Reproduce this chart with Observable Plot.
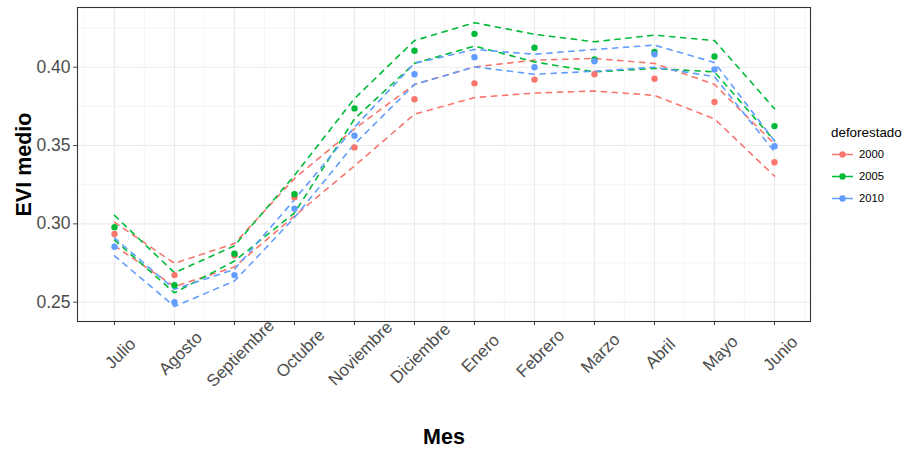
<!DOCTYPE html>
<html><head><meta charset="utf-8">
<script src="https://cdn.jsdelivr.net/npm/d3@7"></script>
<script src="https://cdn.jsdelivr.net/npm/@observablehq/plot@0.6"></script>
<style>
body{margin:0;background:#fff;}
#chart{position:relative;width:904px;height:450px;font-family:"Liberation Sans",Arial,sans-serif;}
#chart svg{font-family:"Liberation Sans",Arial,sans-serif;}
#legend{position:absolute;left:0;top:0;pointer-events:none;}
</style></head><body><div id="chart"></div>
<script>
const meses = ["Julio","Agosto","Septiembre","Octubre","Noviembre","Diciembre","Enero","Febrero","Marzo","Abril","Mayo","Junio"];
const anios = ["2000","2005","2010"];
const colores = ["#F8766D","#00BA38","#619CFF"];

const media2000 = [0.2935,0.2673,0.2800,0.3170,0.3488,0.3795,0.3897,0.3921,0.3955,0.3927,0.3778,0.3393];
const sup2000   = [0.3010,0.2748,0.2875,0.3290,0.3607,0.3890,0.4002,0.4045,0.4056,0.4024,0.3890,0.3510];
const inf2000   = [0.2860,0.2600,0.2725,0.3050,0.3370,0.3700,0.3806,0.3835,0.3848,0.3820,0.3670,0.3305];

const media2005 = [0.2978,0.2608,0.2810,0.3189,0.3737,0.4105,0.4213,0.4124,0.4049,0.4098,0.4068,0.3624];
const sup2005   = [0.3054,0.2688,0.2860,0.3310,0.3800,0.4170,0.4284,0.4210,0.4162,0.4205,0.4170,0.3735];
const inf2005   = [0.2897,0.2560,0.2763,0.3070,0.3670,0.4025,0.4135,0.4034,0.3970,0.3992,0.3970,0.3530];

const media2010 = [0.2854,0.2500,0.2673,0.3097,0.3563,0.3955,0.4064,0.4000,0.4038,0.4083,0.3985,0.3495];
const sup2010   = [0.2910,0.2582,0.2710,0.3155,0.3617,0.4025,0.4113,0.4083,0.4113,0.4141,0.4030,0.3530];
const inf2010   = [0.2796,0.2473,0.2635,0.3040,0.3510,0.3890,0.4002,0.3955,0.3974,0.4000,0.3940,0.3460];

const yTicks = [0.25,0.30,0.35,0.40];
const yMinor = [0.275,0.325,0.375,0.425];

const series = [
  {anio:"2000", media:media2000, sup:sup2000, inf:inf2000},
  {anio:"2005", media:media2005, sup:sup2005, inf:inf2005},
  {anio:"2010", media:media2010, sup:sup2010, inf:inf2010}
];
const puntos = [], bandas = [];
for (const s of series) {
  meses.forEach((m,i) => {
    puntos.push({mes:m, anio:s.anio, v:s.media[i]});
    bandas.push({mes:m, anio:s.anio, tipo:"sup", v:s.sup[i]});
    bandas.push({mes:m, anio:s.anio, tipo:"inf", v:s.inf[i]});
  });
}

const x0 = 111.7, x1 = 777.3;
const step = (x1 - x0) / (meses.length - 1);
const grid = "#ebebeb";

const chart = Plot.plot({
  width: 904, height: 450,
  marginLeft: 77, marginRight: 94, marginTop: 7, marginBottom: 129,
  style: {fontFamily: '"Liberation Sans", Arial, sans-serif', background: "white"},
  x: {type: "point", domain: meses, range: [x0, x1], padding: 0, label: null},
  y: {domain: [0.25, 0.40], range: [301.7, 66.7], label: null},
  color: {domain: anios, range: colores},
  marks: [
    Plot.ruleY(yMinor, {stroke: grid, strokeWidth: 0.55}),
    Plot.ruleX(meses, {x: d => d, dx: -step/2, stroke: grid, strokeWidth: 0.55}),
    Plot.ruleX([meses[meses.length-1]], {x: d => d, dx: step/2, stroke: grid, strokeWidth: 0.55}),
    Plot.gridY(yTicks, {stroke: grid, strokeOpacity: 1, strokeWidth: 1.1}),
    Plot.gridX(meses, {stroke: grid, strokeOpacity: 1, strokeWidth: 1.1}),
    Plot.line(bandas, {x: "mes", y: "v", z: d => d.anio + d.tipo, stroke: "anio",
      strokeWidth: 1.6, strokeDasharray: "5.2,5.8", strokeLinecap: "round"}),
    Plot.dot(puntos, {x: "mes", y: "v", fill: "anio", r: 3.2}),
    Plot.frame({stroke: "#333333", strokeWidth: 1.1}),
    Plot.axisY(yTicks, {tickSize: 4, tickPadding: 3, tickFormat: d3.format(".2f"),
      fontSize: 17.5, color: "#4d4d4d", label: null}),
    Plot.axisX(meses, {tickSize: 4, tickFormat: () => "", color: "#333333", label: null}),
    Plot.text(meses, {x: d => d, text: d => d, frameAnchor: "bottom", dy: 32, dx: 6,
      rotate: -45, textAnchor: "middle", lineAnchor: "middle", fontSize: 17, fill: "#4d4d4d"}),
    Plot.text(["EVI medio"], {text: d => d, frameAnchor: "left", dx: -53, rotate: -90,
      textAnchor: "middle", lineAnchor: "middle", fontSize: 21.5, fontWeight: "bold", fill: "black"}),
    Plot.text(["Mes"], {text: d => d, frameAnchor: "bottom", dy: 116,
      textAnchor: "middle", lineAnchor: "middle", fontSize: 21.5, fontWeight: "bold", fill: "black"})
  ]
});
const cont = document.getElementById("chart");
cont.appendChild(chart);

// legend
const leg = d3.select(cont).append("svg").attr("id","legend").attr("width",904).attr("height",450);
leg.append("text").attr("x",831).attr("y",136.5).attr("font-size",13.4).attr("fill","black").text("deforestado");
const rowsY = [154.5, 176.5, 198.5];
anios.forEach((a,i) => {
  const g = leg.append("g");
  g.append("line").attr("x1",832).attr("x2",853).attr("y1",rowsY[i]).attr("y2",rowsY[i])
    .attr("stroke",colores[i]).attr("stroke-width",1.6).attr("stroke-dasharray","9,4");
  g.append("circle").attr("cx",842.5).attr("cy",rowsY[i]).attr("r",3.2).attr("fill",colores[i]);
  g.append("text").attr("x",859).attr("y",rowsY[i]).attr("dy","0.35em").attr("font-size",11.2)
    .attr("fill","black").text(a);
});
</script></body></html>
